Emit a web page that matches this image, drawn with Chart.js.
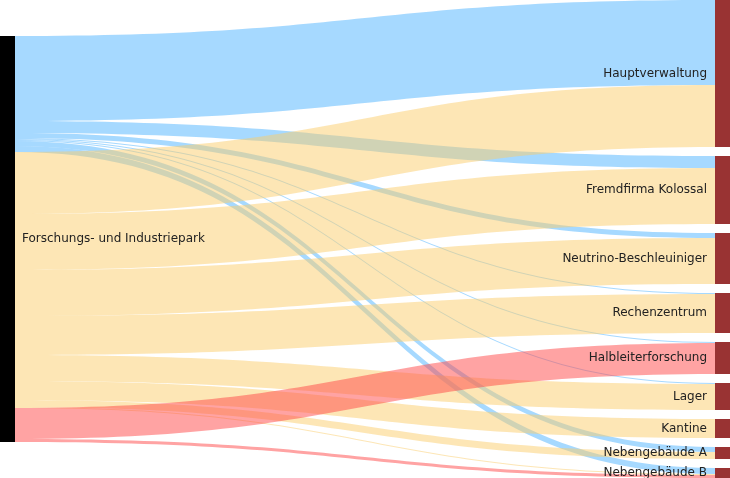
<!DOCTYPE html>
<html>
<head>
<meta charset="utf-8">
<script src="https://cdn.jsdelivr.net/npm/chart.js@4.4.1/dist/chart.umd.min.js"></script>
<style>
  html, body { margin: 0; padding: 0; background: #fff; }
  #wrap { width: 730px; height: 478px; }
</style>
</head>
<body>
<div id="wrap"><canvas id="sankey"></canvas></div>
<script>
// Quelle und Ziele
const sourceName = 'Forschungs- und Industriepark';
const targets    = ['Hauptverwaltung', 'Fremdfirma Kolossal', 'Neutrino-Beschleuiniger', 'Rechenzentrum',
                    'Halbleiterforschung', 'Lager', 'Kantine', 'Nebengebäude A', 'Nebengebäude B'];

// Flussmengen je Ziel (drei Flussarten)
const flowBlue  = [85, 12,  5,  1,  1,  1,  0, 5, 6];
const flowBeige = [62, 56, 46, 39,  0, 26, 19, 7, 1];
const flowRed   = [ 0,  0,  0,  0, 31,  0,  0, 0, 3];

const series       = [flowBlue, flowBeige, flowRed];
const seriesColors = ['rgba(77,179,255,0.5)', 'rgba(251,205,107,0.5)', 'rgba(255,71,71,0.5)'];

const NODE_W   = 15;
const NODE_GAP = 9;

const targetTotals = targets.map((_, i) => series.reduce((s, v) => s + v[i], 0));
const grandTotal   = targetTotals.reduce((a, b) => a + b, 0);
const yMax         = grandTotal + NODE_GAP * (targets.length - 1);

const sankeyPlugin = {
  id: 'sankey',
  afterDatasetsDraw(chart) {
    const { ctx, scales: { x, y } } = chart;
    const xL = x.getPixelForValue(0) + NODE_W;
    const xR = x.getPixelForValue(1) - NODE_W;
    const xm = (xL + xR) / 2;

    const tStart = [];
    let acc = 0;
    targets.forEach((_, i) => { tStart.push(acc); acc += targetTotals[i] + NODE_GAP; });
    const srcTop = (yMax - grandTotal) / 2;

    let sOff = srcTop;
    const tOff = tStart.slice();
    ctx.save();
    series.forEach((vals, si) => {
      ctx.fillStyle = seriesColors[si];
      vals.forEach((v, i) => {
        if (!v) return;
        const s0 = y.getPixelForValue(sOff), s1 = y.getPixelForValue(sOff + v);
        const t0 = y.getPixelForValue(tOff[i]), t1 = y.getPixelForValue(tOff[i] + v);
        ctx.beginPath();
        ctx.moveTo(xL, s0);
        ctx.bezierCurveTo(xm, s0, xm, t0, xR, t0);
        ctx.lineTo(xR, t1);
        ctx.bezierCurveTo(xm, t1, xm, s1, xL, s1);
        ctx.closePath();
        ctx.fill();
        sOff += v;
        tOff[i] += v;
      });
    });

    // Knoten
    const sy0 = y.getPixelForValue(srcTop), sy1 = y.getPixelForValue(srcTop + grandTotal);
    ctx.fillStyle = '#000';
    ctx.fillRect(x.getPixelForValue(0), sy0, NODE_W, sy1 - sy0);
    ctx.fillStyle = '#993333';
    targets.forEach((_, i) => {
      const a = y.getPixelForValue(tStart[i]), b = y.getPixelForValue(tStart[i] + targetTotals[i]);
      ctx.fillRect(xR, a, NODE_W, b - a);
    });

    // Beschriftung
    ctx.font = '12px "DejaVu Sans"';
    ctx.fillStyle = '#222';
    ctx.textBaseline = 'middle';
    ctx.textAlign = 'left';
    ctx.fillText(sourceName, xL + 7, (sy0 + sy1) / 2);
    ctx.textAlign = 'right';
    targets.forEach((t, i) => {
      const mid = y.getPixelForValue(tStart[i] + targetTotals[i] / 2);
      ctx.fillText(t, xR - 8, mid);
    });
    ctx.restore();
  }
};

new Chart(document.getElementById('sankey'), {
  type: 'scatter',
  data: { datasets: [{ data: [] }] },
  options: {
    responsive: true,
    maintainAspectRatio: false,
    animation: false,
    layout: { padding: 0 },
    plugins: { legend: { display: false }, tooltip: { enabled: false } },
    scales: {
      x: { type: 'linear', min: 0, max: 1, display: false },
      y: { type: 'linear', min: 0, max: yMax, reverse: true, display: false }
    }
  },
  plugins: [sankeyPlugin]
});
</script>
</body>
</html>
